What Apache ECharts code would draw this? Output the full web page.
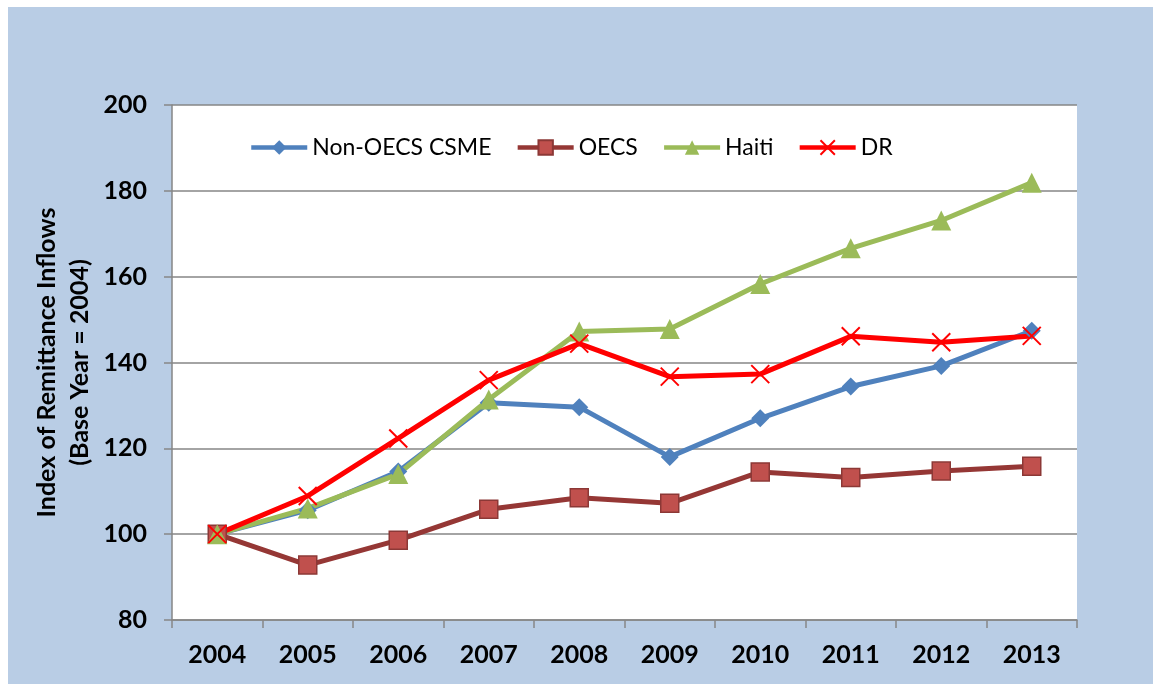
<!DOCTYPE html>
<html>
<head>
<meta charset="utf-8">
<script src="https://cdn.jsdelivr.net/npm/echarts@6/dist/echarts.min.js"></script>
<style>
  html, body { margin: 0; padding: 0; background: #fff; }
  #chart { position: absolute; left: 8px; top: 7px; width: 1145px; height: 677px; }
</style>
</head>
<body>
<div id="chart"></div>
<script>
// index of remittance inflows, base year 2004 = 100
const years = ['2004', '2005', '2006', '2007', '2008', '2009', '2010', '2011', '2012', '2013'];
const nonOecsCsme = [100, 105.6, 114.6, 130.6, 129.6, 118.0, 127.0, 134.4, 139.2, 147.4];
const oecs = [100, 92.8, 98.6, 105.8, 108.5, 107.2, 114.5, 113.2, 114.7, 115.8];
const haiti = [100, 106.0, 114.0, 131.4, 147.2, 147.8, 158.3, 166.6, 173.1, 181.9];
const dr = [100, 108.9, 122.3, 135.9, 144.4, 136.7, 137.3, 146.1, 144.7, 146.2];

const chart = echarts.init(document.getElementById('chart'));

const crossPath = 'path://M0,0L10,10M10,0L0,10';
const font = 'Lato, "Open Sans", sans-serif';

chart.setOption({
  backgroundColor: '#B9CDE5',
  textStyle: { fontFamily: font },
  grid: {
    left: 164, top: 98, right: 76, bottom: 64,
    show: true, backgroundColor: '#fff', borderWidth: 0
  },
  legend: {
    left: 236, top: 124,
    itemWidth: 56, itemHeight: 18, itemGap: 24,
    textStyle: { fontSize: 23, color: '#000', fontFamily: font },
    lineStyle: { width: 4.5 },
    data: ['Non-OECS CSME', 'OECS', 'Haiti', 'DR']
  },
  xAxis: {
    type: 'category',
    data: years,
    boundaryGap: true,
    axisLine: { lineStyle: { color: '#868686', width: 1.5 } },
    axisTick: { show: true, length: 8, lineStyle: { color: '#868686', width: 1.5 } },
    axisLabel: { fontSize: 25, fontWeight: 'bold', color: '#000', margin: 22 }
  },
  yAxis: {
    type: 'value',
    min: 80, max: 200, interval: 20,
    name: 'Index of Remittance Inflows\n(Base Year = 2004)',
    nameLocation: 'middle',
    nameGap: 76,
    nameMoveOverlap: false,
    nameTextStyle: { fontSize: 25, fontWeight: 'bold', color: '#000', lineHeight: 33 },
    axisLine: { show: true, lineStyle: { color: '#868686', width: 1.5 } },
    axisTick: { show: true, length: 8, lineStyle: { color: '#868686', width: 1.5 } },
    axisLabel: { fontSize: 25, fontWeight: 'bold', color: '#000', margin: 25 },
    splitLine: { lineStyle: { color: '#868686', width: 1.5 } }
  },
  series: [
    {
      name: 'Non-OECS CSME', type: 'line', data: nonOecsCsme,
      symbol: 'diamond', symbolSize: 18,
      lineStyle: { color: '#4F81BD', width: 5 },
      itemStyle: { color: '#4F81BD' }
    },
    {
      name: 'OECS', type: 'line', data: oecs,
      symbol: 'rect', symbolSize: 18,
      lineStyle: { color: '#953735', width: 5 },
      itemStyle: { color: '#C0504D', borderColor: '#8C3836', borderWidth: 1.5 }
    },
    {
      name: 'Haiti', type: 'line', data: haiti,
      symbol: 'triangle', symbolSize: 20,
      lineStyle: { color: '#9BBB59', width: 5 },
      itemStyle: { color: '#9BBB59' }
    },
    {
      name: 'DR', type: 'line', data: dr,
      symbol: crossPath, symbolSize: 18,
      lineStyle: { color: '#FF0000', width: 5 },
      itemStyle: { color: '#FF0000', borderColor: '#FF0000', borderWidth: 2 }
    }
  ]
});
</script>
</body>
</html>
